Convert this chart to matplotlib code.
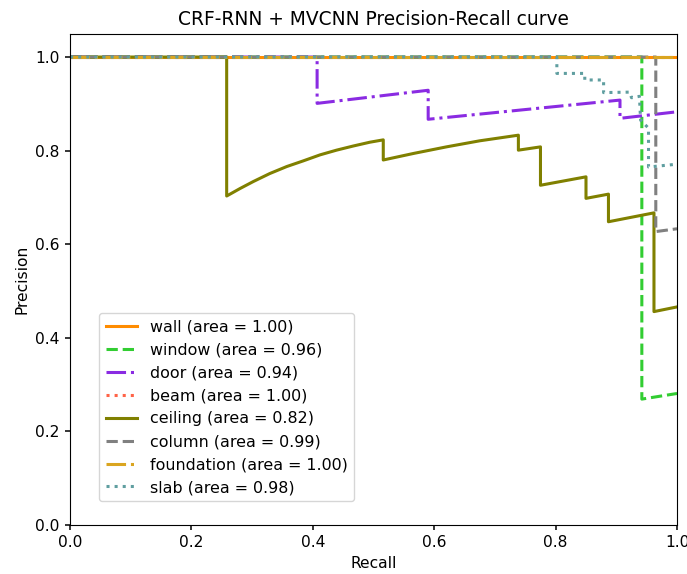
import matplotlib
matplotlib.use("Agg")
import matplotlib.pyplot as plt

names = ["wall", "window", "door", "beam", "ceiling", "column", "foundation", "slab"]
areas = [1.00, 0.96, 0.94, 1.00, 0.82, 0.99, 1.00, 0.98]
colors = ["darkorange", "limegreen", "blueviolet", "tomato", "olive", "gray", "goldenrod", "cadetblue"]
styles = ["-", "--", "-.", ":", "-", "--", "-.", ":"]

wall_r = [0.0, 1.0]
wall_p = [1.0, 1.0]

window_r = [0.0, 0.942, 0.942, 1.0]
window_p = [1.0, 1.0, 0.269, 0.281]

door_r = [0.0, 0.407, 0.407, 0.590, 0.590, 0.906, 0.906, 1.0]
door_p = [1.0, 1.0, 0.901, 0.929, 0.867, 0.908, 0.869, 0.883]

beam_r = [0.0, 1.0]
beam_p = [1.0, 1.0]

ceiling_r = [0.0, 0.258, 0.258, 0.280, 0.302, 0.329, 0.357, 0.384, 0.412, 0.439,
             0.467, 0.494, 0.516, 0.516, 0.566, 0.620, 0.675, 0.7386, 0.7386,
             0.775, 0.775, 0.850, 0.850, 0.887, 0.887, 0.962, 0.962, 1.0]
ceiling_p = [1.0, 1.0, 0.703, 0.719, 0.734, 0.751, 0.766, 0.778, 0.791, 0.801,
             0.810, 0.818, 0.823, 0.780, 0.794, 0.808, 0.821, 0.833, 0.801,
             0.808, 0.726, 0.744, 0.698, 0.707, 0.648, 0.667, 0.456, 0.466]

column_r = [0.0, 0.965, 0.965, 1.0]
column_p = [1.0, 1.0, 0.627, 0.633]

foundation_r = [0.0, 1.0]
foundation_p = [1.0, 1.0]

slab_r = [0.0, 0.802, 0.802, 0.848, 0.848, 0.879, 0.879, 0.922, 0.925, 0.938,
          0.940, 0.953, 0.953, 1.0]
slab_p = [1.0, 1.0, 0.965, 0.965, 0.951, 0.951, 0.924, 0.925, 0.913, 0.916,
          0.865, 0.848, 0.765, 0.771]

recalls = [wall_r, window_r, door_r, beam_r, ceiling_r, column_r, foundation_r, slab_r]
precisions = [wall_p, window_p, door_p, beam_p, ceiling_p, column_p, foundation_p, slab_p]

fs = 11.2
fig = plt.figure(figsize=(6.87, 5.74), dpi=100)
ax = fig.add_axes([0.102, 0.0854, 0.8835, 0.856])
for n, a, c, s, r, p in zip(names, areas, colors, styles, recalls, precisions):
    ax.plot(r, p, color=c, linestyle=s, lw=2.2, label=f"{n} (area = {a:.2f})")
ax.set_xlim(0.0, 1.0)
ax.set_ylim(0.0, 1.05)
ax.set_xlabel("Recall", fontsize=fs)
ax.set_ylabel("Precision", fontsize=fs)
ax.tick_params(labelsize=fs, width=1.1, length=3.9)
ax.set_title("CRF-RNN + MVCNN Precision-Recall curve", fontsize=13.4)
ax.legend(loc="lower left", bbox_to_anchor=(0.035, 0.032), fontsize=11.4)
fig.savefig("out.png", dpi=100)
